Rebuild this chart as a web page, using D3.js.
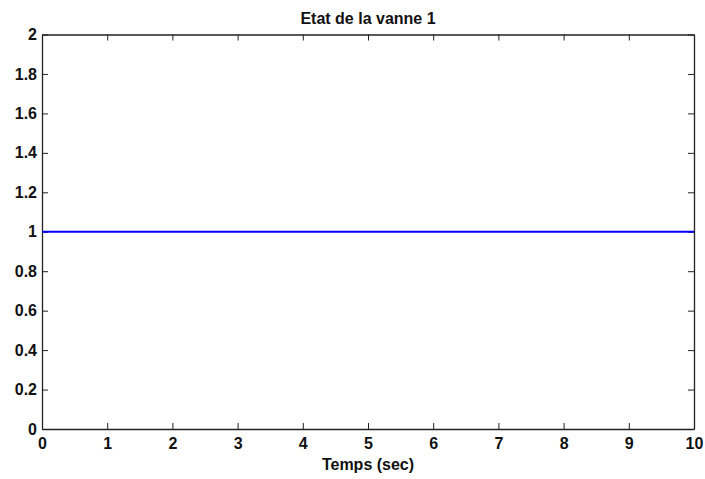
<!DOCTYPE html>
<html><head><meta charset="utf-8">
<script src="https://cdn.jsdelivr.net/npm/d3@7"></script>
<style>body{margin:0;background:#fff}text{font-family:"Liberation Sans",Arial,sans-serif;font-weight:bold}</style>
</head><body><svg id="c" width="705" height="479"></svg>
<script>
const timeValues = [0, 10];
const stateValues = [1, 1];
const xTicks = [0,1,2,3,4,5,6,7,8,9,10];
const yTicks = [0,0.2,0.4,0.6,0.8,1,1.2,1.4,1.6,1.8,2];
const title = "Etat de la vanne 1";
const xLabel = "Temps (sec)";

const svg = d3.select("#c");
const L=42, R=694, T=34.5, B=429;
const x = d3.scaleLinear().domain([0,10]).range([L,R]);
const y = d3.scaleLinear().domain([0,2]).range([B,T]);

svg.append("rect").attr("x",L).attr("y",T).attr("width",R-L).attr("height",B-T).attr("fill","#fff");

const fs = "16px";
const gx = svg.append("g").attr("transform",`translate(0,${B})`)
  .call(d3.axisBottom(x).tickValues(xTicks).tickFormat(d3.format("d")).tickSizeInner(-6).tickSizeOuter(0).tickPadding(9));
const gxt = svg.append("g").attr("transform",`translate(0,${T})`)
  .call(d3.axisTop(x).tickValues(xTicks).tickFormat("").tickSizeInner(-6).tickSizeOuter(0));
const gy = svg.append("g").attr("transform",`translate(${L},0)`)
  .call(d3.axisLeft(y).tickValues(yTicks).tickFormat(d=>String(+d.toFixed(1))).tickSizeInner(-6).tickSizeOuter(0).tickPadding(5));
const gyr = svg.append("g").attr("transform",`translate(${R},0)`)
  .call(d3.axisRight(y).tickValues(yTicks).tickFormat("").tickSizeInner(-6).tickSizeOuter(0));
[gx,gxt,gy,gyr].forEach(g=>{
  g.selectAll(".domain").attr("stroke","#222").attr("stroke-width",1.3);
  g.selectAll(".tick line").attr("stroke","#222");
  g.selectAll("text").attr("font-size",fs).attr("font-family",'"Liberation Sans",Arial,sans-serif').attr("font-weight","bold").attr("fill","#111");
});

svg.append("path").datum(timeValues.map((t,i)=>[t,stateValues[i]]))
  .attr("d", d3.line().x(d=>x(d[0])).y(d=>y(d[1])))
  .attr("fill","none").attr("stroke","#0000ff").attr("stroke-width",2);

svg.append("text").attr("x",(L+R)/2).attr("y",23.5).attr("text-anchor","middle").attr("font-size",fs).attr("fill","#111").text(title);
svg.append("text").attr("x",(L+R)/2).attr("y",470).attr("text-anchor","middle").attr("font-size",fs).attr("fill","#111").text(xLabel);
</script></body></html>
